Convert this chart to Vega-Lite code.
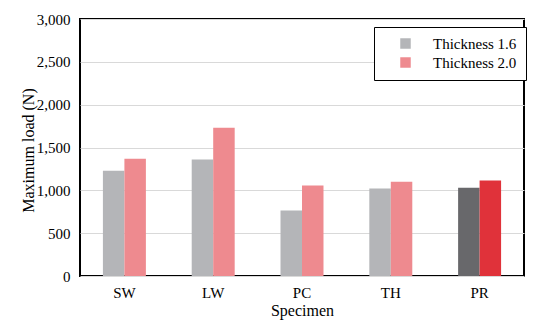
{
  "$schema": "https://vega.github.io/schema/vega-lite/v6.json",
  "autosize": "none",
  "width": 444,
  "height": 257,
  "padding": {"left": 80, "top": 19, "right": 21, "bottom": 51},
  "background": "white",
  "config": {
    "font": "Liberation Serif",
    "view": {"stroke": "black", "strokeWidth": 2},
    "axis": {"labelFont": "Liberation Serif", "titleFont": "Liberation Serif", "labelColor": "black", "titleColor": "black", "titleFontWeight": "normal", "ticks": false, "domain": false, "labelFontSize": 15, "titleFontSize": 16},
    "legend": {"labelFont": "Liberation Serif"}
  },
  "data": {
    "values": [
      {"Specimen": "SW", "Thickness": "1.6", "Series": "Thickness 1.6", "Load": 1230},
      {"Specimen": "SW", "Thickness": "2.0", "Series": "Thickness 2.0", "Load": 1370},
      {"Specimen": "LW", "Thickness": "1.6", "Series": "Thickness 1.6", "Load": 1360},
      {"Specimen": "LW", "Thickness": "2.0", "Series": "Thickness 2.0", "Load": 1730},
      {"Specimen": "PC", "Thickness": "1.6", "Series": "Thickness 1.6", "Load": 765},
      {"Specimen": "PC", "Thickness": "2.0", "Series": "Thickness 2.0", "Load": 1055},
      {"Specimen": "TH", "Thickness": "1.6", "Series": "Thickness 1.6", "Load": 1020},
      {"Specimen": "TH", "Thickness": "2.0", "Series": "Thickness 2.0", "Load": 1100},
      {"Specimen": "PR", "Thickness": "1.6", "Series": "PR 1.6", "Load": 1030},
      {"Specimen": "PR", "Thickness": "2.0", "Series": "PR 2.0", "Load": 1115}
    ]
  },
  "mark": {"type": "bar"},
  "encoding": {
    "x": {
      "field": "Specimen", "type": "nominal", "sort": ["SW", "LW", "PC", "TH", "PR"],
      "scale": {"paddingInner": 0.516, "paddingOuter": 0.258},
      "axis": {"labelAngle": 0, "labelPadding": 9, "title": "Specimen", "titlePadding": 2, "grid": false}
    },
    "xOffset": {"field": "Thickness", "type": "nominal", "scale": {"paddingInner": 0, "paddingOuter": 0}},
    "y": {
      "field": "Load", "type": "quantitative",
      "scale": {"domain": [0, 3000]},
      "axis": {"values": [0, 500, 1000, 1500, 2000, 2500, 3000], "format": ",.0f", "labelPadding": 10, "title": "Maximum load (N)", "titleX": -44, "titleY": 131, "titleAngle": -90, "titleAlign": "center", "titleBaseline": "bottom", "gridColor": "#d9d9d9", "gridWidth": 1}
    },
    "color": {
      "field": "Series", "type": "nominal",
      "scale": {"domain": ["Thickness 1.6", "Thickness 2.0", "PR 1.6", "PR 2.0"], "range": ["#b4b5b8", "#ee8a8f", "#68686b", "#e0323a"]},
      "legend": {
        "values": ["Thickness 1.6", "Thickness 2.0"], "title": null, "orient": "none", "legendX": 294, "legendY": 8,
        "strokeColor": "black", "fillColor": "white", "padding": 9, "symbolType": "square", "symbolSize": 110,
        "symbolStrokeWidth": 0, "labelFontSize": 15, "labelColor": "black",
        "labelOffset": 20, "rowPadding": 3, "symbolOffset": 15, "labelLimit": 200
      }
    }
  }
}
